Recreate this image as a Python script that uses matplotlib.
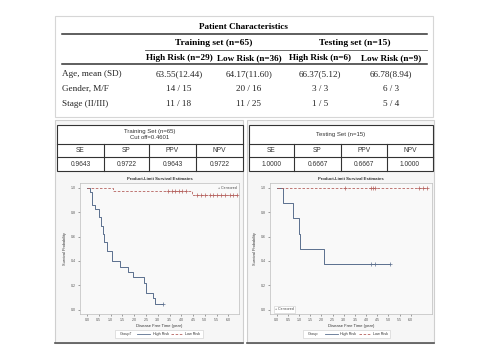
import matplotlib
matplotlib.use('Agg')
import matplotlib.pyplot as plt
from matplotlib.patches import Rectangle

# Patient characteristics table
group_headers = ['Training set (n=65)', 'Testing set (n=15)']
col_headers = ['High Risk (n=29)', 'Low Risk (n=36)', 'High Risk (n=6)', 'Low Risk (n=9)']
row_labels = ['Age, mean (SD)', 'Gender, M/F', 'Stage (II/III)']
table_rows = [
    ['63.55(12.44)', '64.17(11.60)', '66.37(5.12)', '66.78(8.94)'],
    ['14 / 15', '20 / 16', '3 / 3', '6 / 3'],
    ['11 / 18', '11 / 25', '1 / 5', '5 / 4'],
]

# Metric tables
metric_names = ['SE', 'SP', 'PPV', 'NPV']
train_metrics = ['0.9643', '0.9722', '0.9643', '0.9722']
test_metrics = ['1.0000', '0.6667', '0.6667', '1.0000']

# Kaplan-Meier curves
train_high_t = [0.0, 0.13, 0.21, 0.35, 0.52, 0.61, 0.66, 0.72, 0.86, 1.05, 1.39, 1.73, 1.94, 2.40, 2.50, 2.79, 2.87, 3.22]
train_high_s = [1.0, 0.966, 0.862, 0.828, 0.759, 0.690, 0.621, 0.552, 0.483, 0.40, 0.35, 0.31, 0.27, 0.22, 0.14, 0.10, 0.05, 0.05]
train_high_cens_t = [3.22]
train_high_cens_s = [0.05]
train_low_t = [0.0, 1.10, 4.46, 6.37]
train_low_s = [1.0, 0.972, 0.944, 0.944]
train_low_cens_t = [3.45, 3.6, 3.75, 3.9, 4.05, 4.2, 4.65, 4.85, 5.0, 5.2, 5.35, 5.5, 5.7, 5.85, 6.05, 6.2, 6.37]
train_low_cens_s = [0.972] * 6 + [0.944] * 11

test_high_t = [0.0, 0.27, 0.75, 1.0, 1.06, 2.12, 5.05]
test_high_s = [1.0, 0.875, 0.75, 0.625, 0.5, 0.375, 0.375]
test_high_cens_t = [4.22, 4.38, 5.05]
test_high_cens_s = [0.375, 0.375, 0.375]
test_low_t = [0.0, 6.72]
test_low_s = [1.0, 1.0]
test_low_cens_t = [3.05, 4.2, 4.32, 4.42, 6.35, 6.55, 6.72]
test_low_cens_s = [1.0] * 7

x_ticks = [0.0, 0.5, 1.0, 1.5, 2.0, 2.5, 3.0, 3.5, 4.0, 4.5, 5.0, 5.5, 6.0]
y_ticks = [0.0, 0.2, 0.4, 0.6, 0.8, 1.0]

W, H = 491, 359
HIGH_C = '#5b6f8e'
LOW_C = '#b5625e'
SERIF = 'Liberation Serif'
SANS = 'Liberation Sans'

fig = plt.figure(figsize=(W / 100, H / 100), dpi=100)
fig.patch.set_facecolor('white')


def box(x0, y0, x1, y1):
    # pixel box (top-left origin) -> figure fraction
    return [x0 / W, 1 - y1 / H, (x1 - x0) / W, (y1 - y0) / H]


ov = fig.add_axes([0, 0, 1, 1])
ov.set_xlim(0, W)
ov.set_ylim(H, 0)
ov.axis('off')

# ---- top table
ov.add_patch(Rectangle((55, 16), 378, 101, fill=False, ec='#d6d6d6', lw=0.8))
ov.text(243, 27, 'Patient Characteristics', family=SERIF, weight='bold', fontsize=6.6, ha='center', va='center')
ov.plot([62, 427], [34, 34], color='#333333', lw=1.1)
ov.plot([145, 427], [50, 50], color='#555555', lw=0.6)
ov.plot([62, 427], [64, 64], color='#333333', lw=1.1)
col_x = [179, 249, 320, 391]
ov.text(214, 43, group_headers[0], family=SERIF, weight='bold', fontsize=6.8, ha='center', va='center')
ov.text(355, 43, group_headers[1], family=SERIF, weight='bold', fontsize=6.8, ha='center', va='center')
for cx, h in zip(col_x, col_headers):
    ov.text(cx, 58, h, family=SERIF, weight='bold', fontsize=6.6, ha='center', va='center')
row_y = [74, 89, 104]
for ry, lab, vals in zip(row_y, row_labels, table_rows):
    ov.text(62, ry, lab, family=SERIF, fontsize=6.6, ha='left', va='center', color='#222222')
    for cx, v in zip(col_x, vals):
        ov.text(cx, ry, v, family=SERIF, fontsize=6.6, ha='center', va='center', color='#222222')

# ---- lower panels
panels = [(55, 243), (247, 434)]
for x0, x1 in panels:
    ov.add_patch(Rectangle((x0, 120), x1 - x0, 223, fc='#f6f6f6', ec='#cfcfcf', lw=0.8))
    ov.plot([x0, x1], [343, 343], color='#555555', lw=1.2)


def metric_table(x0, x1, dividers, title_lines, values):
    ov.add_patch(Rectangle((x0, 125), x1 - x0, 46, fc='white', ec='#333333', lw=0.8))
    ov.plot([x0, x1], [144, 144], color='#333333', lw=0.8)
    ov.plot([x0, x1], [157, 157], color='#333333', lw=0.8)
    for d in dividers:
        ov.plot([d, d], [144, 171], color='#333333', lw=0.8)
    edges = [x0] + dividers + [x1]
    for i, (name, val) in enumerate(zip(metric_names, values)):
        cx = (edges[i] + edges[i + 1]) / 2
        ov.text(cx, 151, name, family=SANS, fontsize=4.8, ha='center', va='center', color='#333333')
        ov.text(cx, 164, val, family=SANS, fontsize=4.8, ha='center', va='center', color='#333333')
    n = len(title_lines)
    for j, t in enumerate(title_lines):
        ty = 134.5 + (j - (n - 1) / 2) * 6
        ov.text((x0 + x1) / 2, ty, t, family=SANS, fontsize=4.3, ha='center', va='center', color='#333333')


metric_table(57, 243, [104, 149, 196], ['Training Set (n=65)', 'Cut off=0.4601'], train_metrics)
metric_table(249, 433, [294, 341, 387], ['Testing Set (n=15)'], test_metrics)


def km_plot(rect, xmax, high, low, cens_loc):
    ax = fig.add_axes(box(*rect))
    ax.set_facecolor('#f9f9f9')
    ht, hs, hct, hcs = high
    lt, ls, lct, lcs = low
    ax.step(ht, hs, where='post', color=HIGH_C, lw=0.7)
    ax.plot(hct, hcs, '+', color=HIGH_C, ms=2.2, mew=0.5)
    ax.step(lt, ls, where='post', color=LOW_C, lw=0.6, ls=(0, (3, 2)))
    ax.plot(lct, lcs, '+', color=LOW_C, ms=2.2, mew=0.5)
    ax.set_xlim(-0.3, xmax)
    ax.set_ylim(-0.035, 1.04)
    ax.set_xticks(x_ticks)
    ax.set_xticklabels(['%.1f' % v for v in x_ticks])
    ax.set_yticks(y_ticks)
    ax.set_yticklabels(['%.1f' % v for v in y_ticks])
    ax.tick_params(labelsize=2.6, length=1.5, width=0.4, pad=1.5, colors='#555555')
    for lab in ax.get_xticklabels() + ax.get_yticklabels():
        lab.set_family(SANS)
    for s in ax.spines.values():
        s.set_color('#bdbdbd')
        s.set_linewidth(0.5)
    ax.set_title('Product-Limit Survival Estimates', fontsize=3.1, weight='bold', family=SANS, pad=1.8, color='#333333')
    ax.set_xlabel('Disease Free Time (year)', fontsize=3.0, family=SANS, labelpad=1.5, color='#333333')
    ax.set_ylabel('Survival Probability', fontsize=2.8, family=SANS, labelpad=3, color='#333333')
    if cens_loc == 'top':
        ax.text(0.985, 0.965, '+ Censored', transform=ax.transAxes, fontsize=2.6, family=SANS,
                ha='right', va='center', color='#444444')
    else:
        ax.text(0.03, 0.035, '+ Censored', transform=ax.transAxes, fontsize=2.6, family=SANS,
                ha='left', va='center', color='#444444',
                bbox=dict(fc='white', ec='#cccccc', lw=0.4, pad=0.8))
    return ax


km_plot((80, 183, 239, 314), 6.45,
        (train_high_t, train_high_s, train_high_cens_t, train_high_cens_s),
        (train_low_t, train_low_s, train_low_cens_t, train_low_cens_s), 'top')
km_plot((270, 183, 432, 314), 6.95,
        (test_high_t, test_high_s, test_high_cens_t, test_high_cens_s),
        (test_low_t, test_low_s, test_low_cens_t, test_low_cens_s), 'bottom')


# legends under the plots
def group_legend(x0, x1, label):
    ov.add_patch(Rectangle((x0, 330), x1 - x0, 8, fc='white', ec='#cccccc', lw=0.4))
    w = x1 - x0
    ov.text(x0 + 0.05 * w, 334, label, fontsize=2.7, family=SANS, ha='left', va='center', color='#333333')
    ov.plot([x0 + 0.25 * w, x0 + 0.40 * w], [334, 334], color=HIGH_C, lw=0.6)
    ov.text(x0 + 0.43 * w, 334, 'High Risk', fontsize=2.7, family=SANS, ha='left', va='center', color='#333333')
    ov.plot([x0 + 0.64 * w, x0 + 0.77 * w], [334, 334], color=LOW_C, lw=0.6, ls=(0, (3, 2)))
    ov.text(x0 + 0.80 * w, 334, 'Low Risk', fontsize=2.7, family=SANS, ha='left', va='center', color='#333333')


group_legend(115, 203, 'Group\u2020')
group_legend(303, 390, 'Group')

fig.savefig('out.png', dpi=100)
